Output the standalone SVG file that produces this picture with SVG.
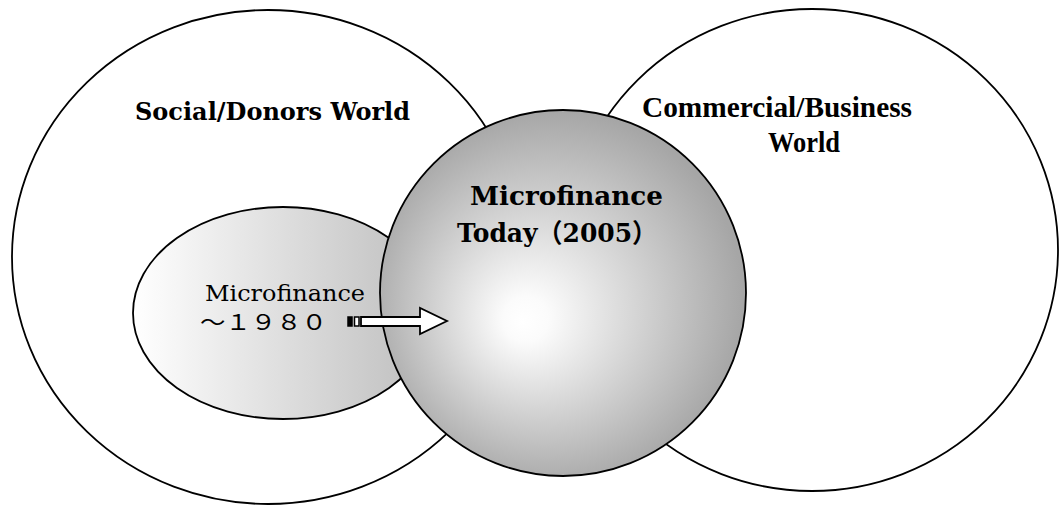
<svg xmlns="http://www.w3.org/2000/svg" width="1059" height="505" viewBox="0 0 1059 505">
  <style>
    .outline { stroke: #000; stroke-width: 1.8; }
    .century { font-family: "DejaVu Serif", "Liberation Serif", "Noto Sans CJK JP", serif; fill: #000; }
    .times { font-family: "Liberation Serif", "Noto Sans CJK JP", serif; fill: #000; font-weight: bold; }
  </style>
  <defs>
    <linearGradient id="gradOld" gradientUnits="userSpaceOnUse" x1="133" y1="0" x2="433" y2="0">
      <stop offset="0" stop-color="#ffffff"/>
      <stop offset="1" stop-color="#bdbdbd"/>
    </linearGradient>
    <radialGradient id="gradToday" gradientUnits="userSpaceOnUse" cx="553" cy="300" r="190" fx="522" fy="322">
      <stop offset="0" stop-color="#ffffff"/>
      <stop offset="0.12" stop-color="#fbfbfb"/>
      <stop offset="1" stop-color="#a6a6a6"/>
    </radialGradient>
  </defs>
  <rect width="1059" height="505" fill="#ffffff"/>

  <g id="social-world">
    <ellipse class="outline" cx="268" cy="257" rx="256" ry="247" fill="#ffffff"/>
    <text class="century" x="135" y="120" font-size="25" font-weight="bold" textLength="275" lengthAdjust="spacingAndGlyphs">Social/Donors World</text>
  </g>

  <g id="business-world">
    <ellipse class="outline" cx="812" cy="250" rx="246" ry="241" fill="#ffffff"/>
    <text class="times" x="642" y="117" font-size="29" textLength="270" lengthAdjust="spacingAndGlyphs">Commercial/Business</text>
    <text class="times" x="768" y="152" font-size="29" textLength="72" lengthAdjust="spacingAndGlyphs">World</text>
  </g>

  <g id="microfinance-1980">
    <ellipse class="outline" cx="283" cy="313" rx="150" ry="106" fill="url(#gradOld)"/>
    <text class="century" x="205" y="301" font-size="22" textLength="160" lengthAdjust="spacingAndGlyphs">Microfinance</text>
    <text class="century" x="200" y="330" font-size="22" textLength="127" lengthAdjust="spacingAndGlyphs">～１９８０</text>
  </g>

  <g id="microfinance-today">
    <circle class="outline" cx="563" cy="293" r="183" fill="url(#gradToday)"/>
    <text class="century" x="470" y="205" font-size="26" font-weight="bold" textLength="193" lengthAdjust="spacingAndGlyphs">Microfinance</text>
    <text class="century" x="457" y="242" font-size="26" font-weight="bold" textLength="200" lengthAdjust="spacingAndGlyphs">Today（2005）</text>
  </g>

  <g id="connectors">
    <rect x="348" y="317" width="4" height="9" fill="#000" stroke="#000" stroke-width="1.5"/>
    <rect x="354.5" y="317" width="4.5" height="9" fill="#ffffff" stroke="#000" stroke-width="1.5"/>
    <polygon class="outline" fill="#ffffff" points="361,317 420,317 420,308 447,321 420,334 420,326 361,326"/>
  </g>
</svg>
